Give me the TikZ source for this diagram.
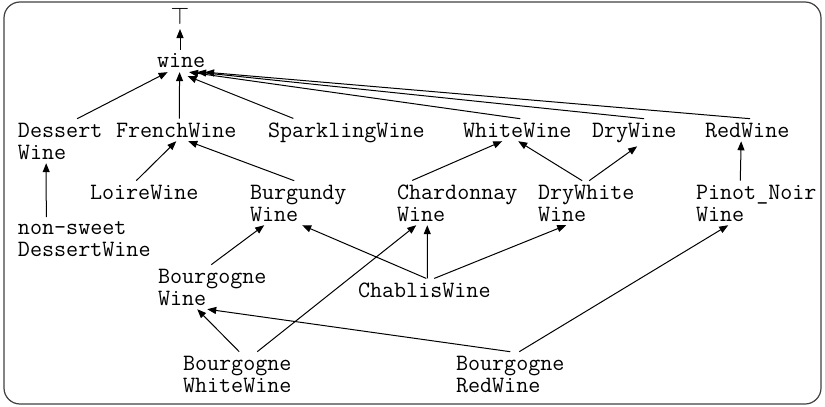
\documentclass[tikz,border=0pt]{standalone}
\usepackage{amssymb}
\usepackage{tikz}
\usetikzlibrary{arrows.meta,calc,positioning}

\begin{document}
\begin{tikzpicture}[x=0.5pt,y=-0.5pt,>={Triangle[length=4.5pt,width=3.5pt]},
  lbl/.style={anchor=base west,inner sep=0pt,outer xsep=0pt,outer ysep=2pt,
    align=left,font=\ttfamily\fontsize{11.7}{11}\selectfont},
  isa/.style={->,line width=0.5pt}]
\useasboundingbox (0,0) rectangle (825,407);
\draw[rounded corners=8pt,line width=0.6pt,black!75] (4,2) rectangle (821,404);
% top and root
\node[anchor=base,inner sep=0pt,outer sep=2pt,font=\large] (top) at (180,25) {$\top$};
\node[lbl] (wine) at (157,68) {wine};
% first row (two-line labels sit on their last line)
\node[lbl] (dessert) at (18,159) {Dessert\\Wine};
\node[lbl] (french) at (116,137) {FrenchWine};
\node[lbl] (sparkling) at (268,137) {SparklingWine};
\node[lbl] (white) at (463,137) {WhiteWine};
\node[lbl] (dry) at (592,137) {DryWine};
\node[lbl] (red) at (705,137) {RedWine};
% second row
\node[lbl] (loire) at (90,199) {LoireWine};
\node[lbl] (burgundy) at (250,221) {Burgundy\\Wine};
\node[lbl] (chardonnay) at (397,221) {Chardonnay\\Wine};
\node[lbl] (drywhite) at (538,221) {DryWhite\\Wine};
\node[lbl] (pinot) at (696,221) {Pinot\_Noir\\Wine};
\node[lbl] (nonsweet) at (18,256) {non-sweet\\DessertWine};
% lower rows
\node[lbl] (bwine) at (158,305) {Bourgogne\\Wine};
\node[lbl] (chablis) at (358,297) {ChablisWine};
\node[lbl] (bwhite) at (183,392) {Bourgogne\\WhiteWine};
\node[lbl] (bred) at (456,392) {Bourgogne\\RedWine};
% edges to the root
\draw[isa] (top |- wine.north) -- (top.south);
\draw[isa] ([xshift=8.5pt]dessert.north) -- ([xshift=-6.75pt]wine.south);
\draw[isa] ([xshift=1.5pt]french.north) -- ([xshift=-0.75pt]wine.south);
\draw[isa] ([xshift=-26.5pt]sparkling.north) -- ([xshift=3.25pt,yshift=-2pt]wine.south);
\draw[isa] ([xshift=1.5pt]white.north) -- ([xshift=4pt]wine.south);
\draw[isa] ([xshift=5pt]dry.north) -- ([xshift=8pt]wine.south);
\draw[isa] ([xshift=1.5pt]red.north) -- ([xshift=12pt]wine.south);
% second row up
\draw[isa] ([xshift=-4pt]loire.north) -- (french.south);
\draw[isa] ([xshift=-2pt]burgundy.north) -- ([xshift=6pt]french.south);
\draw[isa] ([xshift=-22.5pt]chardonnay.north) -- ([xshift=-7.5pt]white.south);
\draw[isa] ([xshift=-2pt]drywhite.north) -- ([xshift=0.5pt]white.south);
\draw[isa] ([xshift=1.5pt]drywhite.north) -- ([xshift=1.5pt]dry.south);
\draw[isa] ([xshift=-8pt]pinot.north) -- ([xshift=-3pt]red.south);
\draw[isa] ([xshift=-19pt]nonsweet.north) -- ([xshift=-7pt]dessert.south);
% lower rows up
\draw[isa] ([xshift=-0.5pt]bwine.north) -- ([xshift=-17pt]burgundy.south);
\draw[isa] ([xshift=1pt]chablis.north) -- ([xshift=2pt]burgundy.south);
\draw[isa] ([xshift=1.5pt]chablis.north) -- ([xshift=-15pt]chardonnay.south);
\draw[isa] ([xshift=5pt]chablis.north) -- ([xshift=-10pt]drywhite.south);
\draw[isa] ([xshift=1pt]bwhite.north) -- ([xshift=-7.5pt]bwine.south);
\draw[isa] ([xshift=10pt]bwhite.north) -- ([xshift=-20.5pt]chardonnay.south);
\draw[isa] (bred.north) -- ([xshift=-2.5pt]bwine.south);
\draw[isa] ([xshift=4.5pt]bred.north) -- ([xshift=-14pt]pinot.south);
\end{tikzpicture}
\end{document}
